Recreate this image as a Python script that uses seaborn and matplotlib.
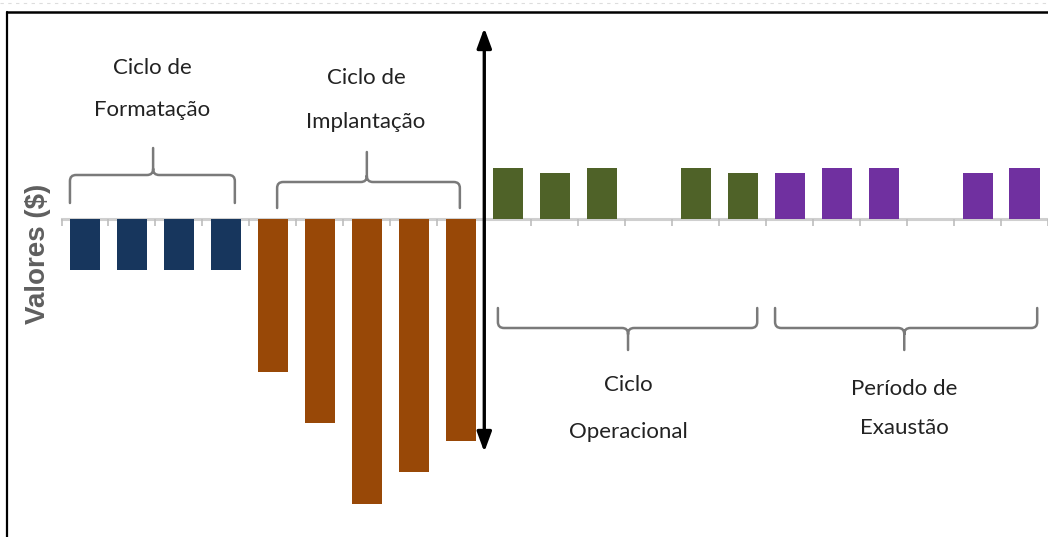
import numpy as np
import pandas as pd
import matplotlib
matplotlib.use("Agg")
import matplotlib.pyplot as plt
import seaborn as sns
from matplotlib.lines import Line2D
from matplotlib.path import Path
from matplotlib.patches import PathPatch

# --- data -----------------------------------------------------------------
fases = ["Formatação", "Implantação", "Operacional", "Exaustão"]
formatacao = [-51, -51, -51, -51]
implantacao = [-153, -204, -285, -253, -222]
operacional = [51, 46, 51, 0, 51, 46]
exaustao = [46, 51, 51, 0, 46, 51]
rotulos = [("Ciclo de", "Formatação"), ("Ciclo de", "Implantação"),
           ("Ciclo", "Operacional"), ("Período de", "Exaustão")]
cores = ["#17365D", "#984807", "#4F6228", "#7030A0"]
titulo_y = "Valores ($)"

series = [formatacao, implantacao, operacional, exaustao]
valores = [v for s in series for v in s]
fase_col = [f for f, s in zip(fases, series) for _ in s]
periodos = [str(i + 1) for i in range(len(valores))]
df = pd.DataFrame({"periodo": periodos, "valor": valores, "fase": fase_col})

# --- figure ---------------------------------------------------------------
W, H = 1048, 537
sns.set_theme(style="white")
fig = plt.figure(figsize=(W / 100, H / 100), dpi=100)
fig.patch.set_facecolor("white")
ax = fig.add_axes([61.5 / W, 0, 986.5 / W, 1])

sns.barplot(data=df, x="periodo", y="valor", hue="fase", order=periodos,
            hue_order=fases, palette=dict(zip(fases, cores)), dodge=False,
            width=0.64, linewidth=0, saturation=1, legend=False, ax=ax)

n = len(periodos)
ax.set_xlim(-0.5, n - 0.5)
ax.set_ylim(-318, 219)
ax.set_facecolor("none")

# zero line with small ticks between periods
for side in ("top", "right", "left"):
    ax.spines[side].set_visible(False)
ax.spines["bottom"].set_position(("data", 0))
ax.spines["bottom"].set_color("#cfcfcf")
ax.spines["bottom"].set_linewidth(2.2)
ax.spines["bottom"].set_zorder(0.5)
ax.set_xticks(np.arange(-0.5, n, 1.0))
ax.set_xticklabels([])
ax.set_yticks([])
ax.tick_params(axis="x", direction="out", length=5, width=1.2,
               color="#bdbdbd", bottom=True)
ax.set_xlabel("")
ax.set_ylabel("")

# axis title, rotated, in figure pixel terms
fig.text(38 / W, 1 - 254 / H, titulo_y, rotation=90, ha="center", va="center",
         family=["Liberation Sans", "DejaVu Sans"], fontsize=20,
         fontweight="bold", color="#5f5f5f")

# double-headed vertical arrow between investment and return phases
ax.annotate("", xy=(8.5, 191), xytext=(8.5, -233),
            arrowprops=dict(arrowstyle="<|-|>,head_length=0.6,head_width=0.22",
                            color="black", lw=2.4, mutation_scale=20,
                            shrinkA=0, shrinkB=0))


def chave(ax, x0, x1, xm, y_bar, y_tip, h, rx=0.13, ry=6):
    """Curly-bracket shape: ends hang away from the tip."""
    s = np.sign(y_tip - y_bar)
    y_end = y_bar - s * h
    verts, codes = [], []
    for xe, d in ((x0, 1), (x1, -1)):
        verts += [(xe, y_end), (xe, y_bar - s * ry), (xe, y_bar),
                  (xe + d * rx, y_bar), (xm - d * rx, y_bar), (xm, y_bar),
                  (xm, y_bar + s * ry)]
        codes += [Path.MOVETO, Path.LINETO, Path.CURVE3, Path.CURVE3,
                  Path.LINETO, Path.CURVE3, Path.CURVE3]
    verts += [(xm, y_bar + s * ry), (xm, y_tip)]
    codes += [Path.MOVETO, Path.LINETO]
    ax.add_patch(PathPatch(Path(verts, codes), fill=False,
                           edgecolor="#7a7a7a", lw=1.8, capstyle="round"))


fonte = ["Lato", "Liberation Sans", "DejaVu Sans"]
# brackets above the negative phases, below the positive ones
chave(ax, -0.32, 3.19, 1.45, 44, 71, 28)
chave(ax, 4.09, 7.98, 6.0, 37, 67, 26)
chave(ax, 8.79, 14.31, 11.56, -109, -131, 20)
chave(ax, 14.69, 20.27, 17.44, -109, -131, 20)

# two-line phase captions (x in periods, y of each line)
pos_rot = [(1.43, 151, 109), (5.98, 141, 97),
           (11.56, -166, -213), (17.44, -170, -209)]
for (x, y1, y2), (l1, l2) in zip(pos_rot, rotulos):
    for y, txt in ((y1, l1), (y2, l2)):
        ax.text(x, y, txt, ha="center", va="center", fontsize=16,
                family=fonte, color="#222222")

# page frame
fig.add_artist(Line2D([7 / W, 1], [1 - 12 / H] * 2, transform=fig.transFigure,
                      color="black", lw=1.8))
fig.add_artist(Line2D([7 / W] * 2, [0, 1 - 12 / H], transform=fig.transFigure,
                      color="black", lw=1.6))
fig.add_artist(Line2D([0, 1], [1 - 3 / H] * 2, transform=fig.transFigure,
                      color="#dddddd", lw=0.8, ls=(0, (3, 4))))

fig.savefig("out.png", dpi=100, facecolor="white")
